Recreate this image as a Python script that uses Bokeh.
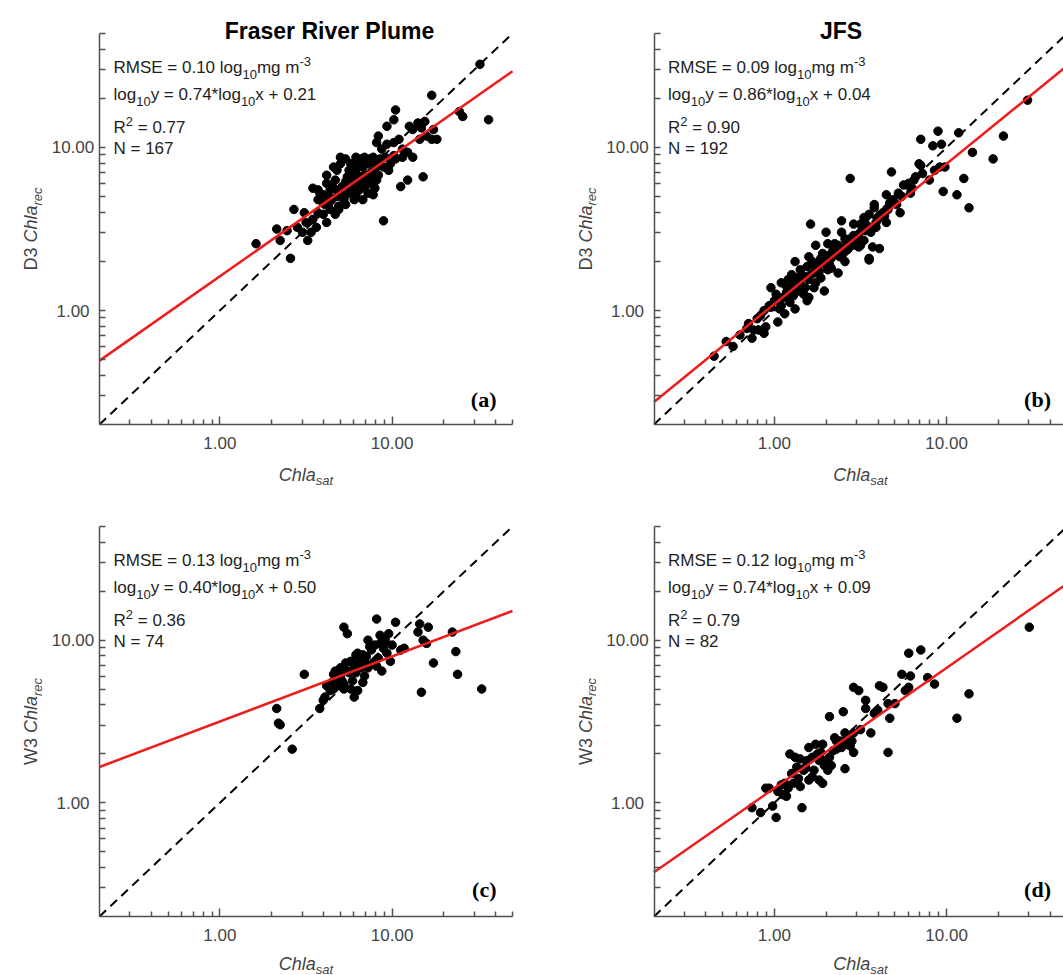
import numpy as np
from bokeh.plotting import figure
from bokeh.models import Label, FixedTicker, PrintfTickFormatter, Range1d
from bokeh.layouts import gridplot
from bokeh.embed import file_html
from bokeh.resources import INLINE

# ---------------- data: log10(Chla) values ----------------
# (a) Fraser River Plume, D3
fr_d3_logsat = [0.21,0.33,0.35,0.39,0.41,0.43,0.49,0.50,0.48,0.53,
                0.51,0.54,0.58,0.57,0.60,0.62,0.63,0.62,0.64,0.66,
                0.67,0.68,0.69,0.70,0.71,0.72,0.74,0.75,0.76,0.77,
                0.78,0.79,0.80,0.80,0.82,0.83,0.83,0.86,0.84,0.86,
                0.89,0.88,0.91,0.92,0.93,0.90,0.95,0.92,0.91,0.97,
                1.02,1.01,0.96,1.01,1.04,1.06,1.06,1.09,1.12,1.05,
                1.09,1.18,1.10,1.12,1.15,1.17,1.19,1.16,1.20,1.24,
                1.23,1.26,1.23,1.39,1.41,1.51,1.56,
                0.73,0.76,0.80,0.84,0.87,0.70,0.65,0.61,0.57,0.82,
                0.86,0.79,0.75,0.90,0.95,0.54,0.56,0.45,0.68,0.73,
                0.83,0.89,0.99,1.02,0.64,0.60,1.01,
                0.57,0.62,0.65,0.68,0.70,0.73,0.76,0.79,0.82,0.85,
                0.88,0.91,0.94,0.97,0.98,0.60,0.63,0.67,0.69,0.72,
                0.75,0.78,0.81,0.84,0.87]
fr_d3_logrec = [0.41,0.50,0.43,0.49,0.32,0.62,0.60,0.54,0.48,0.48,
                0.43,0.75,0.72,0.60,0.66,0.78,0.70,0.54,0.62,0.88,
                0.80,0.70,0.64,0.94,0.76,0.69,0.82,0.72,0.85,0.78,
                0.68,0.94,0.91,0.76,0.82,0.88,0.76,0.72,0.94,0.82,
                0.94,0.85,0.80,0.83,0.93,0.75,0.55,1.07,1.03,1.13,
                1.23,1.17,0.94,1.03,1.05,0.99,0.94,0.97,0.94,0.76,
                0.80,0.82,1.13,1.11,1.15,1.12,1.16,1.05,1.07,1.11,
                1.05,1.05,1.32,1.22,1.19,1.51,1.17,
                0.79,0.74,0.80,0.83,0.78,0.73,0.68,0.65,0.68,0.90,
                0.90,0.71,0.86,0.90,0.88,0.56,0.51,0.51,0.74,0.65,
                0.68,0.71,0.90,0.93,0.74,0.59,0.95,
                0.74,0.83,0.77,0.86,0.90,0.93,0.90,0.86,0.93,0.77,
                0.83,0.88,0.99,1.02,0.86,0.71,0.65,0.59,0.62,0.68,
                0.77,0.83,0.74,0.80,0.93]

# (b) JFS, D3
jfs_d3_logsat = [-0.35,-0.28,-0.24,-0.13,-0.12,-0.10,-0.06,-0.05,-0.06,-0.03,
                 -0.02,0.00,0.02,0.03,0.04,0.05,0.08,0.09,0.10,0.12,
                 0.12,0.13,0.15,0.16,0.17,0.19,0.20,0.20,0.20,0.21,
                 0.23,0.24,0.26,0.26,0.28,0.29,0.30,0.31,0.32,0.34,
                 0.35,0.37,0.38,0.39,0.39,0.41,0.41,0.43,0.45,0.46,
                 0.48,0.49,0.52,0.52,0.55,0.55,0.57,0.58,0.59,0.23,
                 0.14,0.06,0.50,0.53,0.61,0.55,0.59,0.53,0.58,0.65,
                 0.64,0.65,0.67,0.68,0.72,0.73,0.75,0.77,0.78,0.79,
                 0.81,0.82,0.84,0.85,0.85,0.92,0.95,0.97,0.96,0.99,
                 0.98,1.06,1.07,1.10,1.13,1.15,1.27,1.33,1.47,-0.16,
                 -0.09,0.07,0.11,0.16,0.21,0.27,0.33,0.42,0.24,0.31,
                 0.19,0.10,0.46,0.50,0.71,0.62,0.44,
                 -0.20,-0.15,-0.08,-0.02,0.01,0.04,0.07,0.09,0.11,0.13,
                 0.15,0.17,0.18,0.21,0.22,0.25,0.27,0.28,0.30,0.32,
                 0.33,0.36,0.37,0.40,0.42,0.44,0.47,0.49,0.51,0.54,
                 0.56,0.60,0.63,0.66,0.69,0.74,0.80,0.86,0.90,0.93]
jfs_d3_logrec = [-0.28,-0.19,-0.22,-0.17,-0.12,-0.05,-0.14,-0.10,0.00,0.03,
                 0.14,0.06,-0.07,0.01,0.17,0.08,0.19,0.05,0.12,0.01,
                 0.30,0.20,0.25,0.15,0.10,0.27,0.33,0.19,0.08,0.53,
                 0.23,0.40,0.30,0.24,0.35,0.12,0.48,0.41,0.28,0.37,
                 0.41,0.23,0.33,0.55,0.48,0.44,0.30,0.38,0.42,0.53,
                 0.45,0.39,0.43,0.57,0.59,0.31,0.39,0.65,0.54,0.14,
                 0.12,-0.02,0.53,0.49,0.38,0.32,0.51,0.57,0.63,0.54,
                 0.58,0.71,0.66,0.85,0.72,0.60,0.77,0.77,0.78,0.72,
                 0.80,0.82,0.90,0.89,1.05,1.01,1.10,1.02,0.88,0.88,
                 0.73,0.71,1.09,0.81,0.63,0.97,0.93,1.07,1.29,-0.11,
                 -0.12,0.11,0.09,0.22,0.28,0.32,0.32,0.37,0.17,0.25,
                 0.06,0.22,0.46,0.40,0.65,0.59,0.81,
                 -0.15,-0.08,-0.03,0.02,0.10,0.03,0.15,0.09,0.16,0.13,
                 0.19,0.21,0.14,0.22,0.30,0.27,0.20,0.31,0.28,0.34,
                 0.26,0.36,0.40,0.35,0.41,0.44,0.40,0.47,0.50,0.52,
                 0.48,0.56,0.60,0.62,0.68,0.70,0.75,0.84,0.80,0.86]

# (c) Fraser River Plume, W3
fr_w3_logsat = [0.42,0.33,0.34,0.35,0.49,0.58,0.60,0.61,0.62,0.64,
                0.66,0.67,0.68,0.70,0.71,0.72,0.73,0.74,0.76,0.77,
                0.76,0.78,0.79,0.80,0.80,0.82,0.72,0.74,0.84,0.84,
                0.86,0.86,0.88,0.89,0.91,0.92,0.93,0.94,0.95,0.96,
                0.97,0.98,0.99,1.02,1.07,1.15,1.16,1.18,1.20,1.21,
                1.24,1.17,1.35,1.37,1.38,1.52,0.69,0.79,0.83,0.90,
                0.83,1.00,1.05,0.91,
                0.65,0.70,0.75,0.78,0.81,0.85,0.87,0.93,0.66,0.72]
fr_w3_logrec = [0.33,0.58,0.49,0.48,0.79,0.58,0.63,0.65,0.72,0.69,
                0.79,0.81,0.77,0.83,0.75,0.73,0.86,0.81,0.87,0.75,
                0.70,0.65,0.91,0.92,0.69,0.83,1.08,1.04,0.87,0.78,
                1.00,0.83,0.94,0.86,1.13,0.89,1.03,0.81,0.95,1.00,
                0.92,1.04,0.87,1.11,0.95,1.05,1.10,1.00,0.98,1.08,
                0.86,0.68,1.05,0.93,0.79,0.70,0.72,0.80,0.91,0.97,
                0.74,0.97,0.94,0.84,
                0.74,0.78,0.80,0.84,0.88,0.90,0.96,0.98,0.70,0.70]

# (d) JFS, W3
jfs_w3_logsat = [-0.13,-0.08,-0.05,-0.03,-0.01,0.01,0.02,0.04,0.06,0.08,
                 0.09,0.11,0.12,0.13,0.14,0.16,0.17,0.20,0.20,0.22,
                 0.23,0.24,0.26,0.28,0.28,0.30,0.31,0.32,0.34,0.35,
                 0.36,0.39,0.40,0.41,0.41,0.43,0.44,0.46,0.46,0.46,
                 0.49,0.53,0.53,0.56,0.60,0.61,0.63,0.66,0.66,0.67,
                 0.70,0.74,0.76,0.78,0.79,0.78,0.85,0.89,0.93,1.06,
                 1.13,1.48,0.27,0.19,0.38,0.45,0.33,0.07,
                 0.05,0.10,0.15,0.18,0.22,0.25,0.29,0.32,0.36,0.42,
                 0.50,0.58,0.15,0.26]
jfs_w3_logrec = [-0.03,-0.06,0.09,0.09,-0.02,-0.09,0.07,0.11,0.12,0.09,
                 0.30,0.12,0.28,0.22,0.15,-0.03,0.20,0.14,0.34,0.28,
                 0.20,0.36,0.26,0.12,0.36,0.26,0.20,0.53,0.32,0.40,
                 0.33,0.34,0.56,0.21,0.43,0.41,0.35,0.31,0.43,0.71,
                 0.69,0.63,0.58,0.43,0.57,0.72,0.71,0.61,0.31,0.52,
                 0.61,0.79,0.69,0.92,0.78,0.71,0.94,0.77,0.73,0.52,
                 0.67,1.08,0.31,0.26,0.38,0.38,0.23,0.04,
                 0.05,0.18,0.10,0.22,0.16,0.30,0.23,0.28,0.38,0.36,
                 0.45,0.55,0.27,0.14]

panel_titles = ["Fraser River Plume", "JFS", "", ""]
panel_tags = ["(a)", "(b)", "(c)", "(d)"]
algorithms = ["D3", "D3", "W3", "W3"]
rmse_vals = ["0.10", "0.09", "0.13", "0.12"]
fit_slopes = [0.74, 0.86, 0.40, 0.74]
fit_intercepts = [0.21, 0.04, 0.50, 0.09]
r2_vals = ["0.77", "0.90", "0.36", "0.79"]
n_vals = ["167", "192", "74", "82"]
major_tick_vals = [1, 10]
minor_tick_vals = [0.3, 0.4, 0.5, 0.6, 0.7, 0.8, 0.9, 2, 3, 4, 5, 6, 7, 8, 9, 20, 30, 40, 50]
axis_min, axis_max = 0.2, 50

# ---------------- styling helpers ----------------
SANS = "Liberation Sans"
SERIF = "Liberation Serif"
TXT = "#1e1e1e"
GREY = "#444444"
AXC = "#505050"

AW = {' ': 278, '.': 278, '=': 584, '*': 389, '+': 584, '-': 333,
      'R': 722, 'M': 833, 'S': 667, 'E': 667, 'N': 722, 'C': 722, 'D': 722, 'W': 944,
      'l': 222, 'o': 556, 'g': 556, 'm': 833, 'y': 500, 'x': 500, 'h': 556,
      'a': 556, 'r': 333, 'e': 556, 'c': 500, 's': 500, 't': 278}


def tw(s, size):
    return sum(AW.get(ch, 556) for ch in s) * size / 1000.0


def rich(p, segs, x, y, size, small, color, vertical=False, center=False,
         sub_shift=6.5, sup_shift=6.5):
    sizes = [size if k == "n" else small for _, k, _ in segs]
    total = sum(tw(t, s) for (t, _, _), s in zip(segs, sizes))
    pos = -total / 2.0 if center else 0.0
    for (t, k, it), fs in zip(segs, sizes):
        shift = -sub_shift if k == "sub" else (sup_shift if k == "sup" else 0.0)
        body = t.lstrip(" ")
        lead = tw(t[:len(t) - len(body)], fs)      # leading blanks are not kept by SVG
        if vertical:
            lx, ly, ang = x - shift, y + pos + lead, np.pi / 2
        else:
            lx, ly, ang = x + pos + lead, y + shift, 0.0
        p.add_layout(Label(x=lx, y=ly, x_units="screen", y_units="screen", text=body.rstrip(" "),
                           text_font=SANS, text_font_size=f"{fs}px",
                           text_font_style="italic" if it else "normal",
                           text_color=color, angle=ang,
                           text_align="left", text_baseline="alphabetic"))
        pos += tw(t, fs)


LOGSPAN = np.log10(axis_max / axis_min)
L0 = np.log10(axis_min)


def build(k, lx, ly, fig_box, area_box, title_cx, tag_up, xlab_gap):
    x0, y0, W, H = fig_box          # figure box on the page
    L, R, T, B = area_box           # plot-area box on the page
    sx = (R - L) / LOGSPAN
    sy = (B - T) / LOGSPAN
    xr = Range1d(10 ** (L0 + (x0 - L) / sx), 10 ** (L0 + (x0 + W - L) / sx))
    yr = Range1d(10 ** (L0 + (B - y0 - H) / sy), 10 ** (L0 + (B - y0) / sy))

    def px(X):
        return X - x0

    def py(Y):
        return y0 + H - Y

    p = figure(x_axis_type="log", y_axis_type="log", x_range=xr, y_range=yr,
               width=W, height=H, min_border=0, title=None,
               toolbar_location=None, output_backend="svg")
    p.outline_line_color = None
    p.xgrid.visible = False
    p.ygrid.visible = False
    p.background_fill_color = "white"
    p.border_fill_color = "white"
    for ax in (p.xaxis[0], p.yaxis[0]):
        ax.fixed_location = axis_min
        ax.bounds = (axis_min, axis_max)
        ax.formatter = PrintfTickFormatter(format="%.2f")
        ax.axis_line_color = AXC
        ax.axis_line_width = 1.5
        ax.major_tick_line_color = AXC
        ax.minor_tick_line_color = AXC
        ax.major_tick_line_width = 1.5
        ax.minor_tick_line_width = 1.5
        ax.major_tick_in = 8
        ax.major_tick_out = 0
        ax.minor_tick_in = 5
        ax.minor_tick_out = 0
        ax.major_label_text_font = SANS
        ax.major_label_text_font_size = "17px"
        ax.major_label_text_color = GREY
    p.xaxis.ticker = FixedTicker(ticks=major_tick_vals, minor_ticks=minor_tick_vals)
    p.xaxis.major_label_standoff = 12
    # y axis: tick marks only; its labels are centred texts below
    p.yaxis.ticker = FixedTicker(ticks=[], minor_ticks=sorted(minor_tick_vals + major_tick_vals))
    p.yaxis.minor_tick_in = 6

    for v in major_tick_vals:
        p.add_layout(Label(x=px(L - 26.5), y=v, x_units="screen", y_units="data",
                           text=f"{v:.2f}", text_font=SANS, text_font_size="17px",
                           text_color=GREY, text_align="center", text_baseline="middle"))

    p.scatter(10 ** np.asarray(lx), 10 ** np.asarray(ly), size=8.5, color="black")
    ends = np.array([axis_min, axis_max])
    p.line(ends, ends, line_color="black", line_width=2, line_dash="9 6")
    fit = 10 ** (fit_intercepts[k] + fit_slopes[k] * np.log10(ends))
    p.line(ends, fit, line_color="#ee1c1c", line_width=2.5)

    # statistics block
    xs = px(L + 14)
    rich(p, [("RMSE = " + rmse_vals[k] + " log", "n", False), ("10", "sub", False),
             ("mg m", "n", False), ("-3", "sup", False)], xs, py(T + 34), 17, 13, TXT)
    rich(p, [("log", "n", False), ("10", "sub", False),
             (f"y = {fit_slopes[k]:.2f}*log", "n", False), ("10", "sub", False),
             (f"x + {fit_intercepts[k]:.2f}", "n", False)], xs, py(T + 61), 17, 13, TXT)
    rich(p, [("R", "n", False), ("2", "sup", False), (" = " + r2_vals[k], "n", False)],
         xs, py(T + 94), 17, 13, TXT)
    rich(p, [("N = " + n_vals[k], "n", False)], xs, py(T + 115), 17, 13, TXT)

    # panel tag
    p.add_layout(Label(x=px(L + 397), y=py(B - tag_up), x_units="screen", y_units="screen",
                       text=panel_tags[k], text_font=SERIF, text_font_size="22px",
                       text_font_style="bold", text_color="black",
                       text_align="right", text_baseline="alphabetic"))
    # column title
    if panel_titles[k]:
        p.add_layout(Label(x=px(title_cx), y=py(30), x_units="screen", y_units="screen",
                           text=panel_titles[k], text_font=SANS, text_font_size="23px",
                           text_font_style="bold", text_color="black",
                           text_align="center", text_baseline="alphabetic"))
    # axis titles
    rich(p, [("Chla", "n", True), ("sat", "sub", True)], px(L + 206.5), py(B + xlab_gap),
         18, 13, GREY, center=True, sub_shift=5.5)
    rich(p, [(algorithms[k] + " ", "n", False), ("Chla", "n", True), ("rec", "sub", True)],
         px(L - 68.5), py((T + B) / 2.0), 18, 13, GREY, vertical=True, center=True,
         sub_shift=6)
    return p


pa = build(0, fr_d3_logsat, fr_d3_logrec, (0, 0, 528, 490), (99, 512, 33, 424), 329, 25, 50)
pb = build(1, jfs_d3_logsat, jfs_d3_logrec, (528, 0, 535, 490), (653.5, 1066.5, 33, 424), 840.5, 25, 50)
pc = build(2, fr_w3_logsat, fr_w3_logrec, (0, 490, 528, 485), (99, 512, 526, 916), 0, 27, 47)
pd = build(3, jfs_w3_logsat, jfs_w3_logrec, (528, 490, 535, 485), (653.5, 1066.5, 526, 916), 0, 27, 47)

grid = gridplot([[pa, pb], [pc, pd]], toolbar_location=None)
open("out.html", "w").write(file_html(grid, INLINE))
